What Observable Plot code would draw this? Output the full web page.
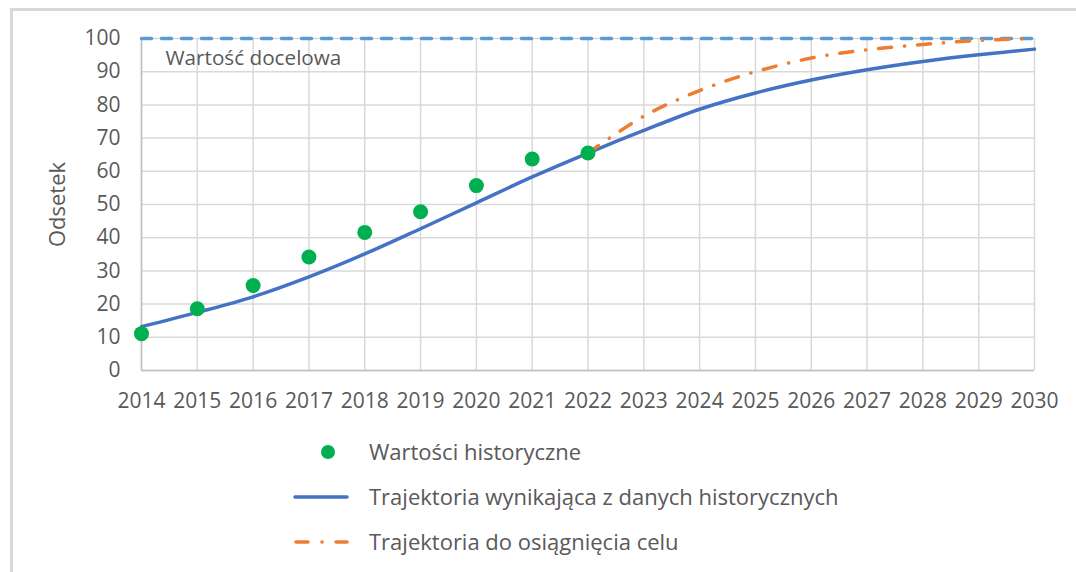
<!DOCTYPE html>
<html>
<head>
<meta charset="utf-8">
<script src="https://cdn.jsdelivr.net/npm/d3@7"></script>
<script src="https://cdn.jsdelivr.net/npm/@observablehq/plot@0.6"></script>
<style>
  html, body { margin: 0; padding: 0; background: #fff; width: 1076px; height: 572px; overflow: hidden; }
  #frame { position: absolute; left: 10px; top: 8px; width: 1100px; height: 600px; border-left: 3px solid #d9d9d9; border-top: 3px solid #d9d9d9; box-sizing: border-box; }
  #chart { position: absolute; left: 0; top: 0; }
  .leg { position: absolute; font-family: "Open Sans", sans-serif; font-size: 22px; color: #595959; white-space: nowrap; line-height: 28px; }
  .sym { position: absolute; }
</style>
</head>
<body>
<div id="frame"></div>
<div id="chart"></div>
<div id="legend"></div>
<script>
const years = [2014,2015,2016,2017,2018,2019,2020,2021,2022,2023,2024,2025,2026,2027,2028,2029,2030];
const historical = [11.1,18.6,25.6,34.2,41.6,47.8,55.7,63.7,65.5];
const trendValues = [13.2,17.5,22.2,28.2,35.1,42.7,50.5,58.3,65.5,72.3,78.7,83.6,87.5,90.6,93.1,95.1,96.8];
const targetYears = [2022,2023,2024,2025,2026,2027,2028,2029,2030];
const targetPath = [65.5,76.6,84.3,90.0,94.1,96.6,98.2,99.4,100];
const targetValue = 100;
const targetLabel = "Wartość docelowa";
const yTicks = [0,10,20,30,40,50,60,70,80,90,100];
const seriesNames = ["Wartości historyczne","Trajektoria wynikająca z danych historycznych","Trajektoria do osiągnięcia celu"];

const histData = historical.map((v,i) => ({year: years[i], value: v}));
const trendData = trendValues.map((v,i) => ({year: years[i], value: v}));
const pathData = targetPath.map((v,i) => ({year: targetYears[i], value: v}));
const targetData = [{year: years[0], value: targetValue}, {year: years[years.length-1], value: targetValue}];

const textColor = "#595959";
const plot = Plot.plot({
  width: 1076,
  height: 420,
  marginLeft: 141,
  marginRight: 42,
  marginTop: 38,
  marginBottom: 50,
  style: {fontFamily: "'Open Sans', sans-serif", fontSize: "21px", color: textColor, background: "transparent"},
  x: {domain: [years[0], years[years.length-1]]},
  y: {domain: [0, 100]},
  marks: [
    Plot.gridX(years, {stroke: "#d9d9d9", strokeOpacity: 1, strokeWidth: 1.5}),
    Plot.gridY(yTicks, {stroke: "#d9d9d9", strokeOpacity: 1, strokeWidth: 1.5}),
    Plot.ruleX([years[0]], {stroke: "#bfbfbf", strokeWidth: 1.5}),
    Plot.ruleY([yTicks[0]], {stroke: "#bfbfbf", strokeWidth: 1.5}),
    Plot.axisX(years, {tickSize: 0, tickPadding: 23, tickFormat: d => String(d), label: null, fill: textColor, fontSize: 21}),
    Plot.axisY(yTicks, {tickSize: 0, tickPadding: 21, label: "Odsetek", labelAnchor: "center", labelArrow: "none", labelOffset: 92, fill: textColor, fontSize: 21}),
    Plot.line(targetData, {x: "year", y: "value", stroke: "#5B9BD5", strokeWidth: 3.5, strokeDasharray: "10,10", strokeLinecap: "round"}),
    Plot.text([targetLabel], {x: () => years[0], y: () => targetValue, text: d => d, dx: 24, dy: 20, textAnchor: "start", fill: textColor, fontSize: 20.7}),
    Plot.line(trendData, {x: "year", y: "value", stroke: "#4472C4", strokeWidth: 3.5, curve: "catmull-rom"}),
    Plot.line(pathData, {x: "year", y: "value", stroke: "#ED7D31", strokeWidth: 3.5, strokeDasharray: "13,13,0.1,13", strokeLinecap: "round", curve: "catmull-rom"}),
    Plot.dot(histData, {x: "year", y: "value", r: 7.5, fill: "#00B050", stroke: "none"})
  ]
});
document.getElementById("chart").appendChild(plot);
// larger axis title
plot.querySelectorAll("g[aria-label='y-axis label']").forEach(el => el.setAttribute("font-size", 22));

// legend below the plot
const legend = document.getElementById("legend");
const rows = [452, 497, 542];
const kinds = ["dot", "solid", "dashdot"];
seriesNames.forEach((name, i) => {
  const t = document.createElement("div");
  t.className = "leg";
  t.textContent = name;
  t.style.left = "369px";
  t.style.top = (rows[i] - 15) + "px";
  legend.appendChild(t);
  const s = document.createElementNS("http://www.w3.org/2000/svg", "svg");
  s.setAttribute("class", "sym");
  s.setAttribute("width", 70);
  s.setAttribute("height", 20);
  s.style.left = "290px";
  s.style.top = (rows[i] - 10) + "px";
  if (kinds[i] === "dot") {
    s.innerHTML = '<circle cx="38" cy="10" r="7" fill="#00B050"/>';
  } else if (kinds[i] === "solid") {
    s.innerHTML = '<line x1="5" x2="57" y1="10" y2="10" stroke="#4472C4" stroke-width="3.5" stroke-linecap="round"/>';
  } else {
    s.innerHTML = '<line x1="6" x2="57" y1="10" y2="10" stroke="#ED7D31" stroke-width="3.5" stroke-linecap="round" stroke-dasharray="12,14,0.1,14"/>';
  }
  legend.appendChild(s);
});
</script>
</body>
</html>
